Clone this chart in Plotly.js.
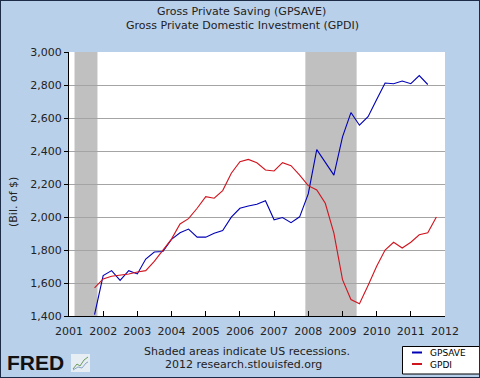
<!DOCTYPE html>
<html>
<head>
<meta charset="utf-8">
<script src="https://cdn.plot.ly/plotly-3.0.1.min.js"></script>
<style>
  html, body { margin: 0; padding: 0; background: #b9d0ea; }
  #wrap { position: relative; width: 480px; height: 378px; }
  #chart { width: 480px; height: 378px; }
  #frame { position: absolute; left: 0; top: 0; width: 478px; height: 376px;
           border: 1px solid #1c2c46; pointer-events: none; }
</style>
</head>
<body>
<div id="wrap"><div id="chart"></div><div id="frame"></div></div>
<script>
// ---- data (quarterly, billions of dollars) ----
const quarters = [
  '2001-10-01',
  '2002-01-01','2002-04-01','2002-07-01','2002-10-01',
  '2003-01-01','2003-04-01','2003-07-01','2003-10-01',
  '2004-01-01','2004-04-01','2004-07-01','2004-10-01',
  '2005-01-01','2005-04-01','2005-07-01','2005-10-01',
  '2006-01-01','2006-04-01','2006-07-01','2006-10-01',
  '2007-01-01','2007-04-01','2007-07-01','2007-10-01',
  '2008-01-01','2008-04-01','2008-07-01','2008-10-01',
  '2009-01-01','2009-04-01','2009-07-01','2009-10-01',
  '2010-01-01','2010-04-01','2010-07-01','2010-10-01',
  '2011-01-01','2011-04-01','2011-07-01','2011-10-01'
];
const gpsave = [
  1408,
  1645, 1675, 1616, 1675,
  1655, 1745, 1788, 1791,
  1864, 1904, 1927, 1878,
  1878, 1902, 1918, 1999,
  2053, 2067, 2077, 2099,
  1983, 1997, 1966, 2001,
  2140, 2408, 2332, 2254,
  2486, 2633, 2556, 2608,
  2712, 2812, 2808, 2824,
  2808, 2857, 2803
];
const gpdi = [
  1570,
  1625, 1641, 1647, 1655,
  1667, 1675, 1731, 1802,
  1866, 1958, 1990, 2053,
  2123, 2114, 2160, 2265,
  2335, 2349, 2329, 2285,
  2279, 2329, 2311, 2254,
  2190, 2164, 2083, 1902,
  1620, 1500, 1474, 1585,
  1701, 1800, 1847, 1812,
  1847, 1892, 1904, 2000
];
const recessionStart = ['2001-03-01', '2007-12-01'];
const recessionEnd   = ['2001-11-01', '2009-06-01'];
const seriesNames = ['GPSAVE', 'GPDI'];
const seriesColors = ['#0000b4', '#d0141e'];
const titleLines = ['Gross Private Saving (GPSAVE)', 'Gross Private Domestic Investment (GPDI)'];

// ---- layout helpers (pixel -> paper) ----
const W = 480, H = 378, ML = 69, MR = 35, MT = 52, MB = 62;
const PW = W - ML - MR, PH = H - MT - MB;
const px = x => (x - ML) / PW;
const py = y => (H - MB - y) / PH;

const font = 'DejaVu Sans, Verdana, sans-serif';

const shapes = recessionStart.map((s, i) => ({
  type: 'rect', xref: 'x', yref: 'paper', x0: s, x1: recessionEnd[i], y0: 0, y1: 1,
  fillcolor: '#c0c0c0', line: {width: 0}, layer: 'below'
}));

// legend box
shapes.push({type: 'rect', xref: 'paper', yref: 'paper',
  x0: px(402.5), x1: px(479.5), y0: py(374), y1: py(346.5),
  fillcolor: '#ffffff', line: {color: '#000000', width: 1}});
const legLineY = [352.5, 364];
const legTextY = [353, 364.8];
seriesNames.forEach((n, i) => {
  shapes.push({type: 'line', xref: 'paper', yref: 'paper',
    x0: px(412), x1: px(422), y0: py(legLineY[i]), y1: py(legLineY[i]),
    line: {color: seriesColors[i], width: 2}});
});
// FRED icon
shapes.push({type: 'rect', xref: 'paper', yref: 'paper',
  x0: px(71), x1: px(90), y0: py(372), y1: py(354),
  fillcolor: '#e6edf3', line: {width: 0}});
shapes.push({type: 'path', xref: 'paper', yref: 'paper',
  path: 'M' + px(73) + ',' + py(369) + ' L' + px(77) + ',' + py(364) + ' L' + px(80) + ',' + py(366) +
        ' L' + px(84) + ',' + py(360) + ' L' + px(88) + ',' + py(357),
  line: {color: '#6a9a5a', width: 1}});
shapes.push({type: 'path', xref: 'paper', yref: 'paper',
  path: 'M' + px(73) + ',' + py(370) + ' L' + px(78) + ',' + py(367) + ' L' + px(82) + ',' + py(368) +
        ' L' + px(86) + ',' + py(363) + ' L' + px(88) + ',' + py(362),
  line: {color: '#8aa6c8', width: 1}});

const txt = (text, x, y, size, extra) => Object.assign({
  text: text, xref: 'paper', yref: 'paper', x: px(x), y: py(y),
  xanchor: 'center', yanchor: 'middle', showarrow: false,
  font: {family: font, size: size, color: '#222'}
}, extra || {});

const annotations = [
  txt(titleLines[0], 241, 12, 11),
  txt(titleLines[1], 242, 25.5, 11),
  txt('(Bil. of $)', 14, 202, 11, {textangle: -90}),
  txt('Shaded areas indicate US recessions.', 247, 352, 11),
  txt('2012 research.stlouisfed.org', 243, 364.5, 11),
  txt('<b>FRED</b>', 5, 362.5, 21, {xanchor: 'left',
     font: {family: 'Liberation Sans, Arial, sans-serif', size: 21, color: '#111'}})
];
seriesNames.forEach((n, i) => {
  annotations.push(txt(n, 428, legTextY[i], 9, {xanchor: 'left',
    font: {family: font, size: 9, color: '#000'}}));
});

const traces = [
  {x: quarters.slice(0, gpsave.length), y: gpsave, name: seriesNames[0], type: 'scatter', mode: 'lines',
   line: {color: seriesColors[0], width: 1.1}},
  {x: quarters.slice(0, gpdi.length), y: gpdi, name: seriesNames[1], type: 'scatter', mode: 'lines',
   line: {color: seriesColors[1], width: 1.1}}
];

const layout = {
  width: W, height: H,
  margin: {l: ML, r: MR, t: MT, b: MB, pad: 0},
  paper_bgcolor: '#b9d0ea', plot_bgcolor: '#ffffff',
  showlegend: false,
  xaxis: {type: 'date', range: ['2001-01-01', '2012-01-01'],
    tick0: '2001-01-01', dtick: 'M12', tickformat: '%Y',
    showgrid: false, zeroline: false, showline: true, linecolor: '#000', linewidth: 1,
    ticks: 'inside', ticklen: 5, tickcolor: '#000', ticklabelstandoff: 5,
    tickfont: {family: font, size: 11, color: '#222'}},
  yaxis: {range: [1400, 3000], dtick: 200, tick0: 1400, tickformat: ',d',
    showgrid: true, gridcolor: '#a4a4a4', gridwidth: 1, zeroline: false,
    showline: true, linecolor: '#000', linewidth: 1,
    ticks: 'outside', ticklen: 4, tickcolor: '#000',
    tickfont: {family: font, size: 11, color: '#222'}},
  shapes: shapes,
  annotations: annotations
};

Plotly.newPlot('chart', traces, layout, {staticPlot: true, displayModeBar: false});
</script>
</body>
</html>
